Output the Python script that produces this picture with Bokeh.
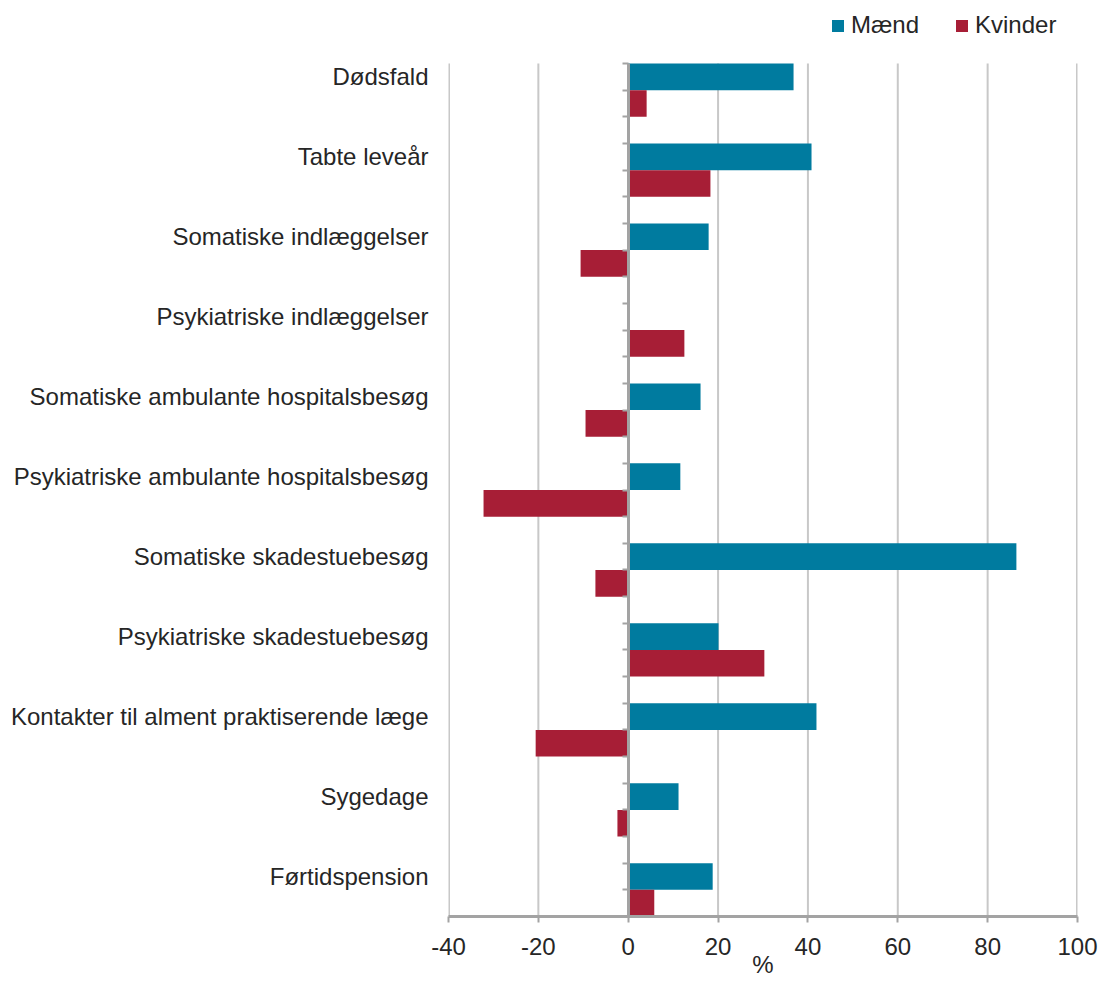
from bokeh.plotting import figure
from bokeh.models import (ColumnDataSource, FixedTicker, LinearAxis, Legend, LegendItem, Range1d)
from bokeh.embed import file_html
from bokeh.resources import INLINE

categories = ["Dødsfald", "Tabte leveår", "Somatiske indlæggelser", "Psykiatriske indlæggelser",
              "Somatiske ambulante hospitalsbesøg", "Psykiatriske ambulante hospitalsbesøg",
              "Somatiske skadestuebesøg", "Psykiatriske skadestuebesøg",
              "Kontakter til alment praktiserende læge", "Sygedage", "Førtidspension"]
maend = [36.8, 40.8, 17.9, 0.0, 16.1, 11.6, 86.4, 20.1, 41.9, 11.2, 18.8]
kvinder = [4.1, 18.3, -10.6, 12.5, -9.5, -32.2, -7.3, 30.3, -20.6, -2.4, 5.8]
x_ticks = [-40, -20, 0, 20, 40, 60, 80, 100]
x_tick_labels = ["-40", "-20", "0", "20", "40", "60", "80", "100"]
x_title = "%"

BLUE = "#007B9F"
RED = "#A71E36"
FONT = "Liberation Sans"
TXT = "#262626"
AXIS = "#A3A3A3"
GRID = "#C8C8C8"
FS = "24px"

# layout (pixels)
W, H = 1100, 984
LEFT, RIGHT, BOTTOM = 448, 23, 68
PLOT_TOP = 63           # top of the bar area
BAR_AREA = 853          # height of the bar area

n = len(categories)
y_bottom = -3 * n + 1   # -32
y_m = [-(3 * i + 0.5) for i in range(n)]
y_k = [-(3 * i + 1.5) for i in range(n)]
unit_px = BAR_AREA / (-y_bottom)
y_top = PLOT_TOP / unit_px   # room above the bars for the legend

src_m = ColumnDataSource(dict(y=y_m, v=maend, c=categories))
src_k = ColumnDataSource(dict(y=y_k, v=kvinder, c=categories))
src_g = ColumnDataSource(dict(x=x_ticks[1:-1]))
src_e = ColumnDataSource(dict(x=[x_ticks[0], x_ticks[-1]]))

p = figure(width=W, height=H, output_backend="svg", toolbar_location=None,
           x_range=Range1d(x_ticks[0], x_ticks[-1]), y_range=Range1d(y_bottom, y_top),
           min_border_left=LEFT, min_border_right=RIGHT, min_border_top=0, min_border_bottom=BOTTOM)
p.outline_line_color = None
p.background_fill_color = "white"
p.xgrid.grid_line_color = None
p.ygrid.grid_line_color = None

# vertical grid lines, limited to the bar area
p.segment(x0="x", x1="x", y0=y_bottom, y1=0, source=src_g, line_color=GRID, line_width=2)
p.segment(x0="x", x1="x", y0=y_bottom, y1=0, source=src_e, line_color=GRID, line_width=3)

rm = p.hbar(y="y", right="v", left=0, height=1.0, source=src_m, fill_color=BLUE, line_color=None)
rk = p.hbar(y="y", right="v", left=0, height=1.0, source=src_k, fill_color=RED, line_color=None)

# x axis
xa = p.xaxis[0]
xa.ticker = FixedTicker(ticks=x_ticks)
xa.major_label_overrides = {t: s for t, s in zip(x_ticks, x_tick_labels)}
xa.axis_line_color = AXIS
xa.axis_line_width = 3
xa.major_tick_line_color = AXIS
xa.major_tick_line_width = 2
xa.major_tick_out = 6
xa.major_tick_in = 0
xa.minor_tick_line_color = None
xa.major_label_text_font = FONT
xa.major_label_text_font_size = FS
xa.major_label_text_color = TXT
xa.major_label_standoff = 15
xa.axis_label = x_title
xa.axis_label_text_font = FONT
xa.axis_label_text_font_size = FS
xa.axis_label_text_font_style = "normal"
xa.axis_label_text_color = TXT
xa.axis_label_standoff = -7

# y axis (category labels)
ya = p.yaxis[0]
ya.ticker = FixedTicker(ticks=y_m)
ya.major_label_overrides = {t: c for t, c in zip(y_m, categories)}
ya.axis_line_color = None
ya.major_tick_line_color = None
ya.minor_tick_line_color = None
ya.major_tick_out = 0
ya.major_tick_in = 0
ya.major_label_standoff = 20
ya.major_label_text_font = FONT
ya.major_label_text_font_size = FS
ya.major_label_text_color = TXT

# zero line axis with small ticks
za = LinearAxis(fixed_location=0, ticker=FixedTicker(ticks=list(range(y_bottom, 1))),
                bounds=(y_bottom, 0))
za.axis_line_color = AXIS
za.axis_line_width = 3
za.major_tick_line_color = AXIS
za.major_tick_line_width = 2
za.major_tick_in = 6
za.major_tick_out = 0
za.minor_tick_line_color = None
za.major_label_text_font_size = "0px"
za.major_label_text_alpha = 0
za.major_label_standoff = 0
p.add_layout(za, "right")

legend = Legend(items=[LegendItem(label="Mænd", renderers=[rm]),
                       LegendItem(label="Kvinder", renderers=[rk])],
                orientation="horizontal", location=(382, 877))
legend.padding = 0
legend.margin = 0
legend.spacing = 35
legend.border_line_color = None
legend.background_fill_alpha = 0
legend.glyph_width = 15
legend.glyph_height = 15
legend.label_height = 24
legend.label_standoff = 6
legend.label_text_font = FONT
legend.label_text_font_size = FS
legend.label_text_color = TXT
p.add_layout(legend, "center")

open("out.html", "w").write(file_html(p, INLINE))
